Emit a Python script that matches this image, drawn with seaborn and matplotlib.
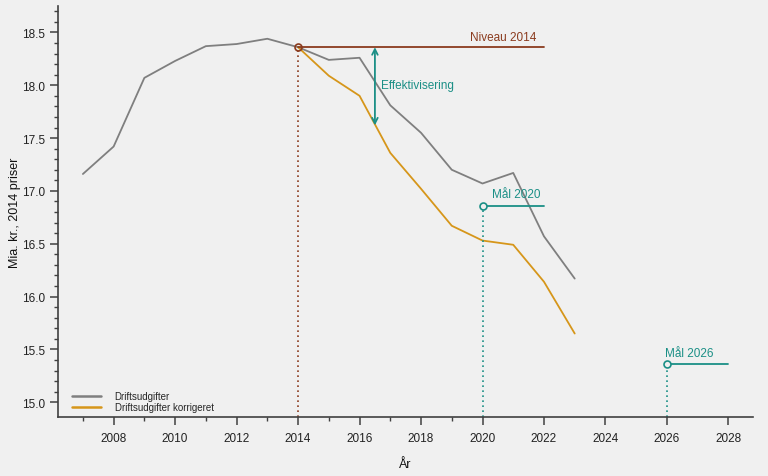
import numpy as np
import pandas as pd
import matplotlib
matplotlib.use("Agg")
import matplotlib.pyplot as plt
from matplotlib.ticker import FixedLocator
import seaborn as sns

# ---- data ----
years_drift = [2007, 2008, 2009, 2010, 2011, 2012, 2013, 2014, 2015, 2016,
               2017, 2018, 2019, 2020, 2021, 2022, 2023]
drift = [17.16, 17.42, 18.07, 18.23, 18.37, 18.39, 18.44, 18.36, 18.24, 18.26,
         17.81, 17.55, 17.20, 17.07, 17.17, 16.57, 16.17]
years_korr = [2014, 2015, 2016, 2017, 2018, 2019, 2020, 2021, 2022, 2023]
korr = [18.36, 18.09, 17.90, 17.36, 17.02, 16.67, 16.53, 16.49, 16.14, 15.65]
series_names = ["Driftsudgifter", "Driftsudgifter korrigeret"]

niveau_year, niveau_end, niveau_val = 2014, 2022, 18.36
eff_year, eff_top, eff_bottom = 2016.5, 18.36, 17.62
maal2020_year, maal2020_end, maal2020_val = 2020, 2022, 16.86
maal2026_year, maal2026_end, maal2026_val = 2026, 2028, 15.36

xticks_major = list(range(2008, 2029, 2))
xticks_minor = [2007, 2009, 2011, 2013, 2015, 2017, 2019]
yticks_major = [15.0, 15.5, 16.0, 16.5, 17.0, 17.5, 18.0, 18.5]

# ---- colors ----
bg = "#f0f0f0"
grey = "#7f7f7f"
orange = "#d6961a"
teal = "#1b8f86"
brown = "#8b3b1e"
axcol = "#404040"

sns.set_style("ticks")
plt.rcParams["font.family"] = ["Liberation Sans", "DejaVu Sans"]

df = pd.DataFrame({
    "År": years_drift + years_korr,
    "value": drift + korr,
    "serie": [series_names[0]] * len(years_drift) + [series_names[1]] * len(years_korr),
})

fig = plt.figure(figsize=(7.68, 4.77), dpi=100, facecolor=bg)
ax = fig.add_axes([58 / 768, 1 - 418 / 477, (753 - 58) / 768, (418 - 7) / 477])
ax.set_facecolor(bg)

sns.lineplot(data=df, x="År", y="value", hue="serie",
             palette={series_names[0]: grey, series_names[1]: orange},
             linewidth=1.3, ax=ax, legend=True)

ymin, ymax = 14.86, 18.75
ax.set_xlim(2006.19, 2028.8)
ax.set_ylim(ymin, ymax)

# Niveau 2014
ax.plot([niveau_year, niveau_end], [niveau_val, niveau_val], color=brown, lw=1.3, zorder=3)
ax.plot([niveau_year, niveau_year], [ymin, niveau_val], color=brown, lw=1.2, ls=(0, (1, 2)), zorder=2)
ax.plot([niveau_year], [niveau_val], marker="o", ms=5, mfc="none", mec=brown, mew=1.2, zorder=4)
ax.text(niveau_end - 0.25, niveau_val + 0.04, "Niveau 2014", color=brown, fontsize=8.5,
        ha="right", va="bottom")

# Effektivisering
ax.annotate("", xy=(eff_year, eff_bottom), xytext=(eff_year, eff_top),
            arrowprops=dict(arrowstyle="<->", color=teal, lw=1.3, shrinkA=0, shrinkB=0,
                            mutation_scale=10))
ax.text(eff_year + 0.2, 18.0, "Effektivisering", color=teal, fontsize=8.5, ha="left", va="center")

# Mål 2020
ax.plot([maal2020_year, maal2020_end], [maal2020_val, maal2020_val], color=teal, lw=1.3, zorder=3)
ax.plot([maal2020_year, maal2020_year], [ymin, maal2020_val], color=teal, lw=1.2, ls=(0, (1, 2)), zorder=2)
ax.plot([maal2020_year], [maal2020_val], marker="o", ms=5, mfc=bg, mec=teal, mew=1.2, zorder=4)
ax.text(maal2020_year + 0.3, maal2020_val + 0.05, "Mål 2020", color=teal, fontsize=8.5,
        ha="left", va="bottom")

# Mål 2026
ax.plot([maal2026_year, maal2026_end], [maal2026_val, maal2026_val], color=teal, lw=1.3, zorder=3)
ax.plot([maal2026_year, maal2026_year], [ymin, maal2026_val], color=teal, lw=1.2, ls=(0, (1, 2)), zorder=2)
ax.plot([maal2026_year], [maal2026_val], marker="o", ms=5, mfc=bg, mec=teal, mew=1.2, zorder=4)
ax.text(maal2026_year - 0.05, maal2026_val + 0.05, "Mål 2026", color=teal, fontsize=8.5,
        ha="left", va="bottom")

# axes styling
sns.despine(ax=ax)
for s in ["left", "bottom"]:
    ax.spines[s].set_color(axcol)
    ax.spines[s].set_linewidth(1.2)

ax.set_xticks(xticks_major)
ax.set_xticklabels([str(y) for y in xticks_major])
ax.xaxis.set_minor_locator(FixedLocator(xticks_minor))
ax.set_yticks(yticks_major)
ax.set_yticklabels([f"{v:.1f}" for v in yticks_major])
ax.yaxis.set_minor_locator(FixedLocator([round(15.0 + 0.1 * i, 1) for i in range(38)]))
ax.tick_params(axis="both", which="major", length=6, width=1.1, color=axcol,
               labelsize=8.5, labelcolor="#222222")
ax.tick_params(axis="both", which="minor", length=3, width=1.0, color=axcol)
ax.tick_params(axis="x", which="major", pad=5)
ax.tick_params(axis="y", which="major", pad=3)

ax.set_xlabel("År", fontsize=9, color="#111111")
ax.xaxis.set_label_coords(0.5, -0.10)
ax.set_ylabel("Mia. kr., 2014 priser", fontsize=9, color="#111111")
ax.yaxis.set_label_coords(-0.053, 0.5)

leg = ax.legend(loc="lower left", frameon=False, fontsize=7, handlelength=3.0,
                handletextpad=1.4, labelspacing=0.1, bbox_to_anchor=(0.020, 0.012),
                borderaxespad=0.0, borderpad=0.0)
for line in leg.get_lines():
    line.set_linewidth(1.8)

fig.savefig("out.png", dpi=100, facecolor=bg)
